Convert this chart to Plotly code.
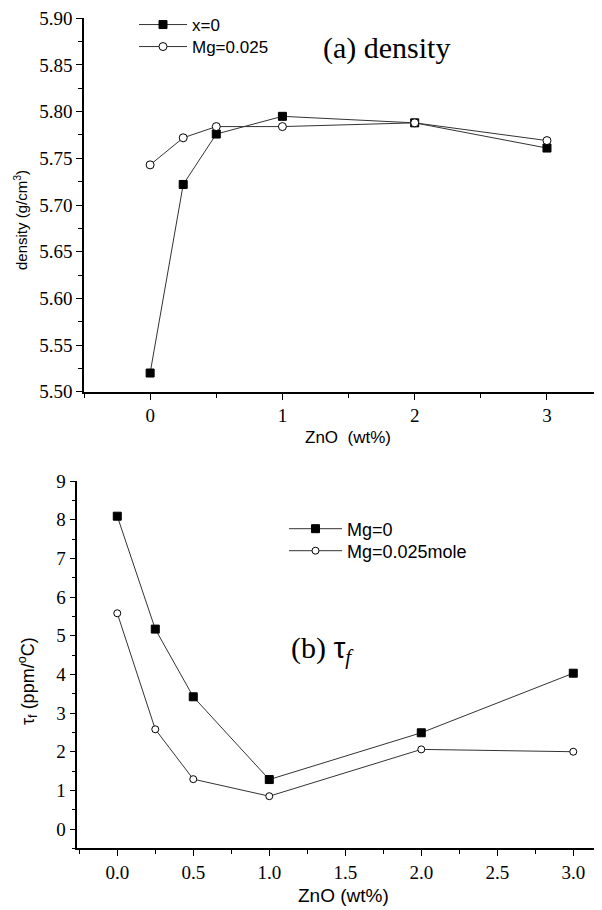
import plotly.graph_objects as go

# ---- data ----
zno_a = [0, 0.25, 0.5, 1, 2, 3]
density_x0 = [5.520, 5.722, 5.776, 5.795, 5.788, 5.761]
density_mg = [5.743, 5.772, 5.784, 5.784, 5.788, 5.769]

zno_b = [0.0, 0.25, 0.5, 1.0, 2.0, 3.0]
tauf_mg0 = [8.09, 5.17, 3.42, 1.28, 2.49, 4.03]
tauf_mg025 = [5.58, 2.58, 1.29, 0.85, 2.06, 2.00]

top_xticks = [0, 1, 2, 3]
top_yticks = [5.50, 5.55, 5.60, 5.65, 5.70, 5.75, 5.80, 5.85, 5.90]
bot_xticks = [0.0, 0.5, 1.0, 1.5, 2.0, 2.5, 3.0]
bot_yticks = list(range(0, 10))

# page body has an 8px margin: the figure starts at screen pixel (8, 8)
OFF = 8
W, H = 602 - OFF, 910 - OFF
SERIF = "Liberation Serif"
SANS = "Liberation Sans"
LINE = "#333333"

def px(x):
    return (x - OFF) / W

def py(y):
    return 1 - (y - OFF) / H

fig = go.Figure()

sq = dict(symbol="square", size=8, color="black", line=dict(color="black", width=1))
ci = dict(symbol="circle", size=8, color="white", line=dict(color="black", width=1))

fig.add_trace(go.Scatter(x=zno_a, y=density_x0, mode="lines+markers", name="x=0",
                         line=dict(color=LINE, width=1), marker=sq,
                         xaxis="x", yaxis="y", legend="legend"))
fig.add_trace(go.Scatter(x=zno_a, y=density_mg, mode="lines+markers", name="Mg=0.025",
                         line=dict(color=LINE, width=1), marker=ci,
                         xaxis="x", yaxis="y", legend="legend2"))
fig.add_trace(go.Scatter(x=zno_b, y=tauf_mg0, mode="lines+markers", name="Mg=0",
                         line=dict(color=LINE, width=1), marker=sq,
                         xaxis="x2", yaxis="y2", legend="legend3"))
fig.add_trace(go.Scatter(x=zno_b, y=tauf_mg025, mode="lines+markers", name="Mg=0.025mole",
                         line=dict(color=LINE, width=1), marker=dict(ci, size=7),
                         xaxis="x2", yaxis="y2", legend="legend4"))

axis_common = dict(showline=True, linecolor="black", linewidth=1.6, mirror=False,
                   showgrid=False, zeroline=False, ticks="outside", ticklen=6,
                   tickwidth=1.2, tickcolor="black", automargin=False,
                   ticklabeloverflow="allow",
                   tickfont=dict(family=SERIF, size=19, color="black"))
minor_common = dict(ticks="outside", ticklen=4, tickcolor="black", tickwidth=1.2)

def leg(x, y, size, iw):
    return dict(x=px(x), y=py(y), xanchor="left", yanchor="middle",
                bgcolor="rgba(0,0,0,0)", font=dict(family=SANS, size=size, color="black"),
                tracegroupgap=0, itemwidth=iw)

fig.update_layout(
    width=W, height=H,
    margin=dict(l=0, r=0, t=0, b=0, autoexpand=False),
    paper_bgcolor="white", plot_bgcolor="white",
    xaxis=dict(axis_common, domain=[px(84), 1], range=[-0.5, 3.416], anchor="y",
               tickvals=top_xticks, ticktext=[str(v) for v in top_xticks],
               minor=dict(minor_common, dtick=0.5, tick0=0)),
    yaxis=dict(axis_common, domain=[py(391.7), py(18.3)], range=[5.50, 5.90], anchor="x",
               tickvals=top_yticks, ticktext=[f"{v:.2f}" for v in top_yticks],
               minor=dict(minor_common, dtick=0.025, tick0=5.5)),
    xaxis2=dict(axis_common, domain=[px(77.3), 1], range=[-0.263, 3.189], anchor="y2",
                tickvals=bot_xticks, ticktext=[f"{v:.1f}" for v in bot_xticks],
                minor=dict(minor_common, dtick=0.25, tick0=0)),
    yaxis2=dict(axis_common, domain=[py(848.4), py(481)], range=[-0.5, 9], anchor="x2",
                tickvals=bot_yticks, ticktext=[str(v) for v in bot_yticks],
                minor=dict(minor_common, dtick=0.5, tick0=0)),
    legend=leg(134, 25, 17, 48),
    legend2=leg(134, 47, 17, 48),
    legend3=leg(284, 529, 18, 53),
    legend4=leg(284, 551, 18, 53),
    showlegend=True,
)

def ann(text, x, y, size, family, angle=0):
    return dict(text=text, x=px(x), y=py(y), xref="paper", yref="paper",
                xanchor="center", yanchor="middle", textangle=angle,
                showarrow=False, font=dict(family=family, size=size, color="black"))

annotations = [
    ann("(a) density", 386, 48, 30, SERIF),
    ann("(b) <span style=\"font-family:Liberation Sans\">τ</span><sub><i>f</i></sub>", 322, 650, 30, SERIF),
    ann("density (g/cm<sup>3</sup>)", 20, 220, 15, SANS, -90),
    ann("ZnO  (wt%)", 348, 437, 17, SANS),
    ann("τ<sub>f</sub> (ppm/<sup>o</sup>C)", 27, 681, 18, SANS, -90),
    ann("ZnO (wt%)", 343, 895, 19, SANS),
]
fig.update_layout(annotations=annotations)

fig.write_html("out.html")
